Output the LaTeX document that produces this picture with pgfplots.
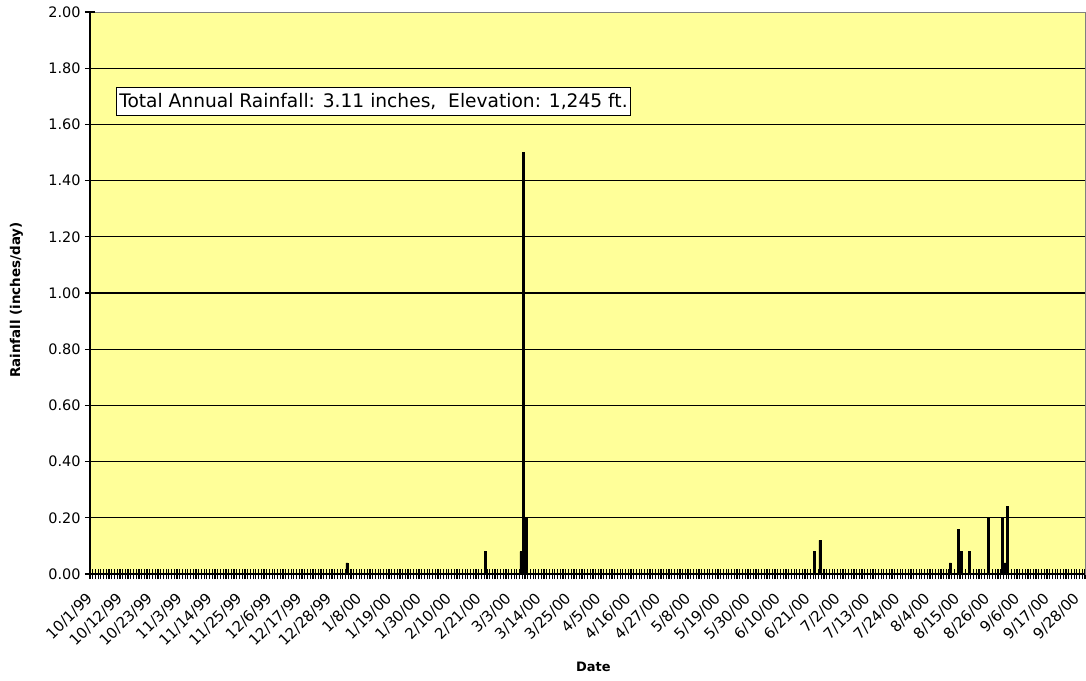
\documentclass[border=0pt]{standalone}
\usepackage{pgfplots}
\pgfplotsset{compat=1.18}
\usepackage{fontspec}
\setmainfont{DejaVu Sans}
\definecolor{plotbg}{RGB}{255,255,153}

% daily rainfall, water year 10/1/99 - 9/30/00 (day 0 = 10/1/99), non-zero days only
\pgfplotstableread{
day   rain
94.5  0.04
145.5 0.08
158.5 0.08
159.5 1.50
160.5 0.20
266.5 0.08
268.5 0.12
316.5 0.04
319.5 0.16
320.5 0.08
323.5 0.08
330.5 0.20
335.5 0.20
336.5 0.04
337.5 0.24
}\raindata

\begin{document}
\begin{tikzpicture}
\begin{axis}[
  scale only axis,
  width=995bp, height=562bp,
  xmin=0, xmax=366,
  ymin=0, ymax=2,
  axis background/.style={fill=plotbg},
  axis line style={draw=gray, line width=0.8bp},
  xtick={0,...,366}, xticklabels={},
  extra x ticks={0.5,11.5,...,363.5},
  extra x tick labels={10/1/99,10/12/99,10/23/99,11/3/99,11/14/99,11/25/99,12/6/99,12/17/99,12/28/99,1/8/00,1/19/00,1/30/00,2/10/00,2/21/00,3/3/00,3/14/00,3/25/00,4/5/00,4/16/00,4/27/00,5/8/00,5/19/00,5/30/00,6/10/00,6/21/00,7/2/00,7/13/00,7/24/00,8/4/00,8/15/00,8/26/00,9/6/00,9/17/00,9/28/00},
  extra x tick style={major tick length=0pt, grid=none},
  xticklabel style={xshift=-6bp, yshift=-16bp, rotate=45, anchor=north east, inner sep=1bp,
    font=\fontsize{15}{15}\selectfont},
  ytick={0,0.2,0.4,0.6,0.8,1.0,1.2,1.4,1.6,1.8},
  extra y ticks={2}, extra y tick style={grid=none},
  yticklabel style={font=\fontsize{14.5}{14.5}\selectfont, xshift=-1bp},
  /pgf/number format/.cd, fixed, fixed zerofill, precision=2, assume math mode=true, /pgfplots/.cd,
  tick align=center, xtick pos=bottom, ytick pos=left,
  major tick length=10bp,
  tick style={black, line width=1.2bp},
  ymajorgrids=true,
  major grid style={black, line width=1.1bp},
  xlabel={\bfseries Date},
  xlabel style={at={(rel axis cs:0.506,-0.1655)}, anchor=center, font=\fontsize{13}{13}\selectfont},
  ylabel={\bfseries Rainfall (inches/day)},
  ylabel style={at={(rel axis cs:-0.0739,0.4875)}, anchor=center, font=\fontsize{13.5}{13.5}\selectfont},
  clip=false,
]
\addplot[ybar, bar width=0.75, fill=black, draw=black, line width=0.4bp] table[x=day, y=rain] {\raindata};
\draw[black, line width=1.2bp] (rel axis cs:0,1) -- (rel axis cs:0,0) -- (rel axis cs:1,0);
\node[draw=black, fill=white, line width=0.8bp, anchor=west, inner xsep=3bp, inner ysep=6bp,
  font=\fontsize{18.7}{18.7}\selectfont] at (rel axis cs:0.026,0.8407)
  {Total Annual Rainfall: 3.11 inches,\ \ Elevation: 1,245 ft.};
\end{axis}
\pgfresetboundingbox
\path[use as bounding box] ([xshift=-90bp,yshift=-107bp]current axis.south west) rectangle ([xshift=1bp,yshift=12bp]current axis.north east);
\end{tikzpicture}
\end{document}
